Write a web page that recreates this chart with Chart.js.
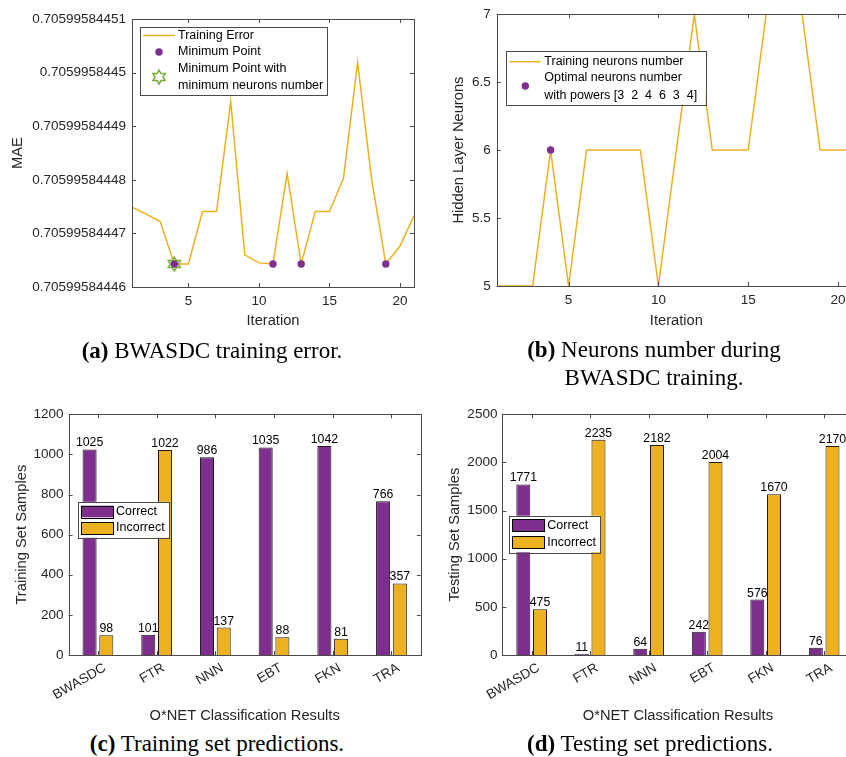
<!DOCTYPE html>
<html>
<head>
<meta charset="utf-8">
<script src="https://cdn.jsdelivr.net/npm/chart.js@4.4.0/dist/chart.umd.min.js"></script>
<style>
  body { margin: 0; width: 846px; height: 757px; overflow: hidden; background: #fff; position: relative; }
  canvas { position: absolute; }
  .cap { position: absolute; font-family: "Liberation Serif", "Times New Roman", serif; font-size: 23px;
         line-height: 27.5px; color: #000; text-align: center; white-space: nowrap; }
</style>
</head>
<body>
<canvas id="chartA" width="420" height="340" style="left:0;top:0"></canvas>
<canvas id="chartB" width="440" height="340" style="left:420px;top:0"></canvas>
<canvas id="chartC" width="426" height="330" style="left:0;top:400px"></canvas>
<canvas id="chartD" width="440" height="330" style="left:420px;top:400px"></canvas>

<div class="cap" style="left:2px;top:337px;width:420px"><b>(a)</b> BWASDC training error.</div>
<div class="cap" style="left:444px;top:336px;width:420px"><b>(b)</b> Neurons number during<br>BWASDC training.</div>
<div class="cap" style="left:7px;top:730px;width:420px"><b>(c)</b> Training set predictions.</div>
<div class="cap" style="left:440px;top:730px;width:420px"><b>(d)</b> Testing set predictions.</div>

<script>
// (a) training error
const iterations = [1, 2, 3, 4, 5, 6, 7, 8, 9, 10, 11, 12, 13, 14, 15, 16, 17, 18, 19, 20, 21];
const mae = [
  0.7059958444749, 0.7059958444736, 0.7059958444722, 0.7059958444643, 0.7059958444643,
  0.7059958444741, 0.7059958444741, 0.7059958444946, 0.7059958444660, 0.7059958444645,
  0.7059958444643, 0.7059958444812, 0.7059958444643, 0.7059958444741, 0.7059958444741,
  0.7059958444803, 0.7059958445019, 0.7059958444800, 0.7059958444643, 0.7059958444676,
  0.7059958444733
];
const minIters = [4, 11, 13, 19];
const minNeuronIters = [4];
const maeTickLabels = ['0.70599584446', '0.70599584447', '0.70599584448', '0.70599584449', '0.7059958445', '0.70599584451'];
const iterTicks = [5, 10, 15, 20];
const legendA = [['Training Error'], ['Minimum Point'], ['Minimum Point with', 'minimum neurons number']];

// (b) neurons number
const neurons = [5, 5, 5, 6, 5, 6, 6, 6, 6, 5, 6, 7, 6, 6, 6, 7, 7, 7, 6, 6, 6];
const optimalIters = [4];
const neuronTickLabels = ['5', '5.5', '6', '6.5', '7'];
const legendB = [['Training neurons number'], ['Optimal neurons number', 'with powers [3  2  4  6  3  4]']];

// (c) and (d) predictions
const methods = ['BWASDC', 'FTR', 'NNN', 'EBT', 'FKN', 'TRA'];
const trainCorrect = [1025, 101, 986, 1035, 1042, 766];
const trainIncorrect = [98, 1022, 137, 88, 81, 357];
const testCorrect = [1771, 11, 64, 242, 576, 76];
const testIncorrect = [475, 2235, 2182, 2004, 1670, 2170];
const trainTicks = [0, 200, 400, 600, 800, 1000, 1200];
const testTicks = [0, 500, 1000, 1500, 2000, 2500];
const seriesNames = ['Correct', 'Incorrect'];

const PURPLE = '#7E2F8E';
const YELLOW = '#EDB120';
const GREEN = '#77AC30';
const AXIS = '#4a4a4a';
const TXT = '#262626';

Chart.defaults.font.family = '"Liberation Sans", Arial, sans-serif';
Chart.defaults.color = TXT;

function hexagram(r, color) {
  const c = document.createElement('canvas');
  const s = Math.ceil(2 * r + 4);
  c.width = s; c.height = s;
  const g = c.getContext('2d');
  g.beginPath();
  for (let k = 0; k < 12; k++) {
    const rad = k % 2 === 0 ? r : r / Math.sqrt(3);
    const a = -Math.PI / 2 + k * Math.PI / 6;
    const px = s / 2 + rad * Math.cos(a), py = s / 2 + rad * Math.sin(a);
    if (k === 0) g.moveTo(px, py); else g.lineTo(px, py);
  }
  g.closePath();
  g.strokeStyle = color;
  g.lineWidth = 1.5;
  g.stroke();
  return c;
}
const starImg = hexagram(7, GREEN);

// box around plot with inward ticks
const frame = {
  id: 'frame',
  afterDatasetsDraw(chart) {
    const { ctx, chartArea: a, scales } = chart;
    const r = v => Math.round(v) + 0.5;
    ctx.save();
    ctx.strokeStyle = AXIS;
    ctx.lineWidth = 1;
    ctx.strokeRect(r(a.left), r(a.top), Math.round(a.right - a.left), Math.round(a.bottom - a.top));
    ctx.beginPath();
    scales.x.ticks.forEach((t, i) => {
      const p = r(scales.x.getPixelForTick(i));
      ctx.moveTo(p, a.bottom); ctx.lineTo(p, a.bottom - 4);
      ctx.moveTo(p, a.top); ctx.lineTo(p, a.top + 4);
    });
    scales.y.ticks.forEach((t, i) => {
      const p = r(scales.y.getPixelForTick(i));
      ctx.moveTo(a.left, p); ctx.lineTo(a.left + 4, p);
      ctx.moveTo(a.right, p); ctx.lineTo(a.right - 4, p);
    });
    ctx.stroke();
    ctx.restore();
  }
};

const boxLegend = {
  id: 'boxLegend',
  afterDraw(chart, args, o) {
    if (!o.items) return;
    const ctx = chart.ctx;
    ctx.save();
    ctx.fillStyle = '#fff';
    ctx.fillRect(o.x, o.y, o.w, o.h);
    ctx.strokeStyle = AXIS;
    ctx.lineWidth = 1;
    ctx.strokeRect(Math.round(o.x) + 0.5, Math.round(o.y) + 0.5, Math.round(o.w), Math.round(o.h));
    ctx.font = '12.5px "Liberation Sans", Arial, sans-serif';
    ctx.textBaseline = 'middle';
    o.items.forEach(it => {
      const ds = chart.data.datasets[it.ds];
      if (it.kind === 'line') {
        ctx.strokeStyle = ds.borderColor;
        ctx.lineWidth = 1.5;
        ctx.beginPath();
        ctx.moveTo(o.symX0, it.sy); ctx.lineTo(o.symX1, it.sy);
        ctx.stroke();
      } else if (it.kind === 'dot') {
        ctx.fillStyle = ds.backgroundColor;
        ctx.beginPath();
        ctx.arc(o.symC, it.sy, 3.7, 0, Math.PI * 2);
        ctx.fill();
      } else if (it.kind === 'star') {
        ctx.drawImage(starImg, o.symC - starImg.width / 2, it.sy - starImg.height / 2);
      } else if (it.kind === 'patch') {
        ctx.fillStyle = ds.backgroundColor;
        ctx.fillRect(o.symX0, it.sy - it.ph / 2, o.symX1 - o.symX0, it.ph);
        ctx.strokeStyle = '#000';
        ctx.lineWidth = 1;
        ctx.strokeRect(Math.round(o.symX0) + 0.5, Math.round(it.sy - it.ph / 2) + 0.5, Math.round(o.symX1 - o.symX0), Math.round(it.ph));
      }
      ctx.fillStyle = '#000';
      it.text.forEach((s, k) => ctx.fillText(s, o.textX, it.ty + k * it.lh));
    });
    ctx.restore();
  }
};

const barValues = {
  id: 'barValues',
  afterDatasetsDraw(chart) {
    const ctx = chart.ctx;
    ctx.save();
    ctx.font = '12.3px "Liberation Sans", Arial, sans-serif';
    ctx.fillStyle = '#000';
    ctx.textAlign = 'center';
    ctx.textBaseline = 'alphabetic';
    chart.data.datasets.forEach((ds, di) => {
      chart.getDatasetMeta(di).data.forEach((el, i) => {
        ctx.fillText(String(ds.data[i]), el.x, el.y - 3);
      });
    });
    ctx.restore();
  }
};

const tickFont = { size: 13.5 };
const titleFont = { size: 14.7 };

function setTicks(values) {
  return scale => { scale.ticks = values.map(v => ({ value: v })); };
}

// (a)
new Chart(document.getElementById('chartA'), {
  type: 'scatter',
  data: {
    datasets: [
      {
        label: legendA[0][0],
        data: iterations.map((x, i) => ({ x: x, y: mae[i] })),
        showLine: true, borderColor: YELLOW, borderWidth: 1.5, pointRadius: 0, order: 3
      },
      {
        label: legendA[1][0],
        data: minIters.map(x => ({ x: x, y: mae[x - 1] })),
        backgroundColor: PURPLE, borderColor: PURPLE, pointRadius: 3.7, borderWidth: 0, order: 1
      },
      {
        label: legendA[2].join(' '),
        data: minNeuronIters.map(x => ({ x: x, y: mae[x - 1] })),
        pointStyle: starImg, order: 2
      }
    ]
  },
  options: {
    responsive: false,
    animation: false,
    layout: { padding: { left: 0, top: 19, right: 6, bottom: 0 } },
    plugins: {
      legend: { display: false },
      tooltip: { enabled: false },
      boxLegend: {
        x: 140, y: 27, w: 187, h: 68, symX0: 143, symX1: 175, symC: 159, textX: 178,
        items: [
          { ds: 0, kind: 'line', sy: 35.5, ty: 36, lh: 0, text: legendA[0] },
          { ds: 1, kind: 'dot', sy: 52, ty: 52, lh: 0, text: legendA[1] },
          { ds: 2, kind: 'star', sy: 77, ty: 69, lh: 17, text: legendA[2] }
        ]
      }
    },
    scales: {
      x: {
        type: 'linear', min: 1, max: 21,
        afterBuildTicks: setTicks(iterTicks),
        grid: { display: false, drawTicks: false }, border: { display: false },
        ticks: { font: tickFont, padding: 6, color: TXT },
        title: { display: true, text: 'Iteration', font: titleFont, color: TXT, padding: { top: 0, bottom: 10 } },
        afterFit: s => { s.height = 53; }
      },
      y: {
        min: Number(maeTickLabels[0]), max: Number(maeTickLabels[maeTickLabels.length - 1]),
        afterBuildTicks: setTicks(maeTickLabels.map(Number)),
        grid: { display: false, drawTicks: false }, border: { display: false },
        ticks: { font: tickFont, padding: 6, color: TXT, callback: (v, i) => maeTickLabels[i] },
        title: { display: true, text: 'MAE', font: titleFont, color: TXT, padding: { top: 9, bottom: 0 } },
        afterFit: s => { s.width = 132; }
      }
    }
  },
  plugins: [frame, boxLegend]
});

// (b)
new Chart(document.getElementById('chartB'), {
  type: 'scatter',
  data: {
    datasets: [
      {
        label: legendB[0][0],
        data: iterations.map((x, i) => ({ x: x, y: neurons[i] })),
        showLine: true, borderColor: YELLOW, borderWidth: 1.5, pointRadius: 0, order: 2
      },
      {
        label: legendB[1].join(' '),
        data: optimalIters.map(x => ({ x: x, y: neurons[x - 1] })),
        backgroundColor: PURPLE, borderColor: PURPLE, pointRadius: 3.7, borderWidth: 0, order: 1
      }
    ]
  },
  options: {
    responsive: false,
    animation: false,
    layout: { padding: { left: 0, top: 9, right: 3.3, bottom: 0 } },
    plugins: {
      legend: { display: false },
      tooltip: { enabled: false },
      boxLegend: {
        x: 85.7, y: 50.7, w: 200, h: 53.6, symX0: 89.3, symX1: 120.7, symC: 105.3, textX: 124.3,
        items: [
          { ds: 0, kind: 'line', sy: 61.7, ty: 61.7, lh: 0, text: legendB[0] },
          { ds: 1, kind: 'dot', sy: 86, ty: 78, lh: 18, text: legendB[1] }
        ]
      }
    },
    scales: {
      x: {
        type: 'linear', min: 1, max: 21,
        afterBuildTicks: setTicks(iterTicks),
        grid: { display: false, drawTicks: false }, border: { display: false },
        ticks: { font: tickFont, padding: 6, color: TXT },
        title: { display: true, text: 'Iteration', font: titleFont, color: TXT, padding: { top: 0, bottom: 10 } },
        afterFit: s => { s.height = 54; }
      },
      y: {
        min: 5, max: 7,
        afterBuildTicks: setTicks(neuronTickLabels.map(Number)),
        grid: { display: false, drawTicks: false }, border: { display: false },
        ticks: { font: tickFont, padding: 6, color: TXT, callback: (v, i) => neuronTickLabels[i] },
        title: { display: true, text: 'Hidden Layer Neurons', font: titleFont, color: TXT, padding: { top: 30.5, bottom: 0 } },
        afterFit: s => { s.width = 76.7; }
      }
    }
  },
  plugins: [frame, boxLegend]
});

function barChart(id, correct, incorrect, yTicks, yTitle, yWidth, titlePad, rightPad, legendPos) {
  return new Chart(document.getElementById(id), {
    type: 'bar',
    data: {
      labels: methods,
      datasets: [
        { label: seriesNames[0], data: correct, backgroundColor: PURPLE, borderColor: '#1a1a1a', borderWidth: 1,
          barPercentage: 0.84, categoryPercentage: 0.57 },
        { label: seriesNames[1], data: incorrect, backgroundColor: YELLOW, borderColor: '#1a1a1a', borderWidth: 1,
          barPercentage: 0.84, categoryPercentage: 0.57 }
      ]
    },
    options: {
      responsive: false,
      animation: false,
      layout: { padding: { left: 0, top: 14.3, right: rightPad, bottom: 0 } },
      plugins: {
        legend: { display: false },
        tooltip: { enabled: false },
        boxLegend: legendPos
      },
      scales: {
        x: {
          grid: { display: false, drawTicks: false }, border: { display: false },
          ticks: { font: tickFont, padding: 5, labelOffset: 7, color: TXT, minRotation: 30, maxRotation: 30, autoSkip: false },
          title: { display: true, text: 'O*NET Classification Results', font: titleFont, color: TXT, padding: { top: 0, bottom: 5 } },
          afterFit: s => { s.height = 75; }
        },
        y: {
          min: yTicks[0], max: yTicks[yTicks.length - 1],
          afterBuildTicks: setTicks(yTicks),
          grid: { display: false, drawTicks: false }, border: { display: false },
          ticks: { font: tickFont, padding: 5, color: TXT, callback: v => String(v) },
          title: { display: true, text: yTitle, font: titleFont, color: TXT, padding: { top: titlePad, bottom: 0 } },
          afterFit: s => { s.width = yWidth; }
        }
      }
    },
    plugins: [frame, barValues, boxLegend]
  });
}

barChart('chartC', trainCorrect, trainIncorrect, trainTicks, 'Training Set Samples', 68.6, 12.9, 5.2, {
  x: 78, y: 101.8, w: 91.3, h: 36, symX0: 81.3, symX1: 113.3, textX: 116,
  items: [
    { ds: 0, kind: 'patch', sy: 111.5, ph: 11.6, ty: 111.5, lh: 0, text: [seriesNames[0]] },
    { ds: 1, kind: 'patch', sy: 128.2, ph: 11.6, ty: 128, lh: 0, text: [seriesNames[1]] }
  ]
});

barChart('chartD', testCorrect, testIncorrect, testTicks, 'Testing Set Samples', 82.4, 26.2, 6.6, {
  x: 89.3, y: 115.7, w: 91, h: 36.6, symX0: 92.3, symX1: 124.3, textX: 127.3,
  items: [
    { ds: 0, kind: 'patch', sy: 125, ph: 12, ty: 125.7, lh: 0, text: [seriesNames[0]] },
    { ds: 1, kind: 'patch', sy: 142.2, ph: 12, ty: 142.3, lh: 0, text: [seriesNames[1]] }
  ]
});
</script>
</body>
</html>
